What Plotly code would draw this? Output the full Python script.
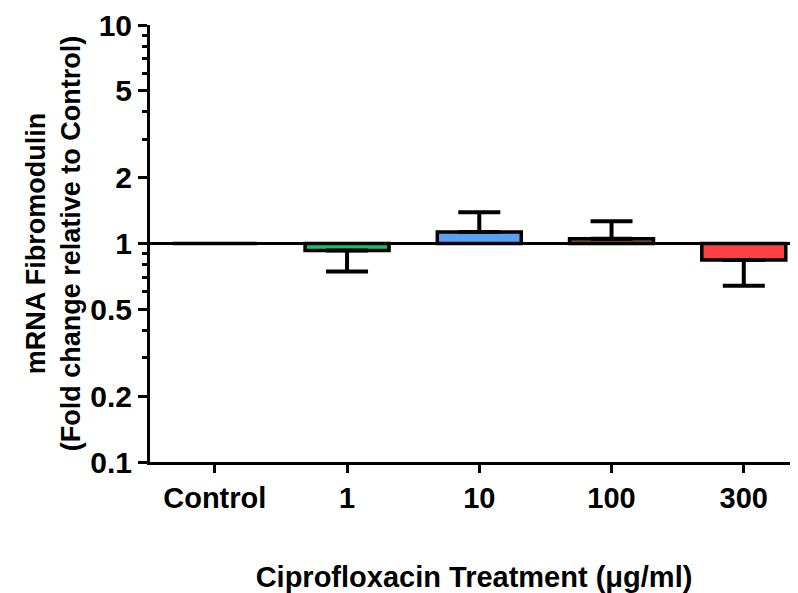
import plotly.graph_objects as go

# ---- data ----
CATEGORIES = ["Control", "1", "10", "100", "300"]
MEAN_FOLD = [1.0, 0.93, 1.13, 1.05, 0.84]
ERR_END = [None, 0.745, 1.39, 1.265, 0.64]
BAR_COLORS = ["#FFFFFF", "#19BF6E", "#55A2F7", "#8C6239", "#FB4141"]
BASELINE = 1.0
Y_TICKS = [0.1, 0.2, 0.5, 1, 2, 5, 10]
Y_TICK_TEXT = ["0.1", "0.2", "0.5", "1", "2", "5", "10"]
Y_MINOR = [0.3, 0.4, 0.6, 0.7, 0.8, 0.9, 3, 4, 6, 7, 8, 9]

FONT = "Liberation Sans, Arial, sans-serif"

fig = go.Figure()

# bars drawn from the baseline (1) to the mean
fig.add_trace(go.Bar(
    x=CATEGORIES,
    y=[m - BASELINE for m in MEAN_FOLD],
    base=[BASELINE] * len(MEAN_FOLD),
    width=0.635,
    marker=dict(color=BAR_COLORS, line=dict(color="black", width=3.5)),
    showlegend=False,
    hoverinfo="skip",
))

# one-sided error bars (away from baseline)
ex, ey, eplus, eminus = [], [], [], []
for c, m, e in zip(CATEGORIES, MEAN_FOLD, ERR_END):
    if e is None:
        continue
    ex.append(c)
    ey.append(m)
    if e >= m:
        eplus.append(e - m)
        eminus.append(0)
    else:
        eplus.append(0)
        eminus.append(m - e)

fig.add_trace(go.Scatter(
    x=ex, y=ey, mode="markers",
    marker=dict(size=1, opacity=0),
    error_y=dict(type="data", symmetric=False, array=eplus, arrayminus=eminus,
                 color="black", thickness=4, width=21),
    showlegend=False, hoverinfo="skip",
))

# baseline at 1
fig.add_shape(type="line", xref="paper", x0=0, x1=1, yref="y", y0=BASELINE, y1=BASELINE,
              line=dict(color="black", width=3))

# page body has an 8px margin, so the figure is slightly smaller than the window
fig.update_layout(
    width=790, height=585,
    margin=dict(l=142, r=0, t=17, b=131),
    paper_bgcolor="white", plot_bgcolor="white",
    font=dict(family=FONT, color="black", size=28, weight="bold"),
    xaxis=dict(
        type="category",
        range=[-0.49, 4.41],
        showline=True, linecolor="black", linewidth=3,
        ticks="outside", ticklen=8, tickwidth=3, tickcolor="black",
        tickfont=dict(family=FONT, size=29, weight="bold"),
        showgrid=False, zeroline=False, automargin=False,
        title=dict(text="Ciprofloxacin Treatment (μg/ml)",
                   font=dict(family=FONT, size=29, weight="bold"), standoff=62),
    ),
    yaxis=dict(
        type="log",
        range=[-1, 1],
        tickmode="array", tickvals=Y_TICKS, ticktext=Y_TICK_TEXT,
        showline=True, linecolor="black", linewidth=3,
        ticks="outside", ticklen=9, tickwidth=3, tickcolor="black",
        tickfont=dict(family=FONT, size=30, weight="bold"),
        minor=dict(tickmode="array", tickvals=Y_MINOR, ticks="outside",
                   ticklen=5, tickwidth=3, tickcolor="black", showgrid=False),
        showgrid=False, zeroline=False, automargin=False,
        title=dict(text="mRNA Fibromodulin<br>(Fold change relative to Control)",
                   font=dict(family=FONT, size=27, weight="bold"), standoff=2),
    ),
)

fig.write_html("out.html")
